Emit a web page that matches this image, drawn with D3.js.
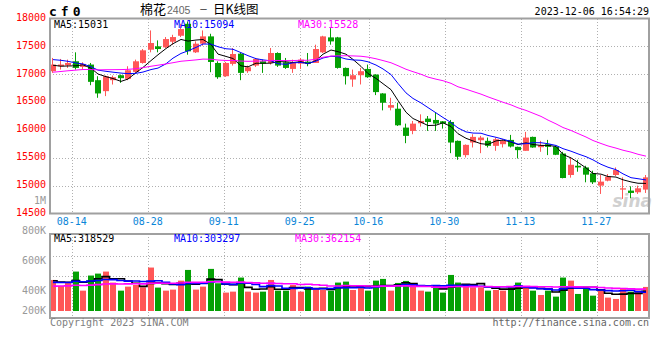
<!DOCTYPE html>
<html><head><meta charset="utf-8">
<script src="https://cdn.jsdelivr.net/npm/d3@7/dist/d3.min.js"></script>
<style>html,body{margin:0;padding:0;background:#fff;}svg{display:block;}</style>
</head><body><svg id="c" width="660" height="360"></svg>
<script>
const dates = ["08-09","08-10","08-11","08-14","08-15","08-16","08-17","08-18","08-21","08-22","08-23","08-24","08-25","08-28","08-29","08-30","08-31","09-01","09-04","09-05","09-06","09-07","09-08","09-11","09-12","09-13","09-14","09-15","09-18","09-19","09-20","09-21","09-22","09-25","09-26","09-27","09-28","10-09","10-10","10-11","10-12","10-13","10-16","10-17","10-18","10-19","10-20","10-23","10-24","10-25","10-26","10-27","10-30","10-31","11-01","11-02","11-03","11-06","11-07","11-08","11-09","11-10","11-13","11-14","11-15","11-16","11-17","11-20","11-21","11-22","11-23","11-24","11-27","11-28","11-29","11-30","12-01","12-04","12-05","12-06"];
const open  = [17054,17143,17160,17232,17131,17173,16893,16696,16893,16982,16917,17042,17202,17440,17500,17482,17583,17690,17905,17393,17548,17679,17202,16964,17185,17369,17054,17155,17232,17202,17381,17214,17095,17190,17226,17202,17393,17661,17661,17113,16905,16982,17095,16994,16655,16399,16381,16042,15982,16119,16203,16179,16155,16143,15804,15548,15774,15815,15804,15714,15744,15821,15696,15625,15875,15690,15744,15702,15577,15191,15357,15327,15220,15000,15089,15191,14929,14911,14881,14929];
const high  = [17292,17274,17262,17393,17214,17202,16964,16976,16976,16994,17143,17262,17452,17786,17607,17667,17708,17905,17946,17590,17786,17726,17232,17220,17470,17381,17155,17292,17262,17470,17393,17292,17262,17292,17381,17530,17690,17827,17670,17120,17083,17113,17173,17000,16660,16577,16488,16113,16161,16280,16250,16321,16160,16179,15810,15740,15923,15893,15863,15863,15833,15911,15700,15964,15880,15804,15821,15714,15607,15506,15464,15357,15268,15191,15208,15327,15149,14988,15000,15191];
const low   = [17024,17083,17113,17083,17095,16803,16577,16607,16815,16845,16893,17024,17190,17393,17393,17470,17530,17667,17350,17381,17512,17036,16917,16952,17155,16893,17024,17131,17024,17173,17131,17095,17024,17095,17143,17202,17381,17530,17100,16815,16774,16816,16935,16625,16351,16351,16071,15762,15923,16060,15982,15982,16024,15583,15464,15506,15685,15583,15685,15625,15685,15685,15488,15625,15680,15607,15548,15548,15131,15143,15250,15060,15030,14851,15077,15173,14762,14774,14851,14869];
const close = [17173,17173,17202,17113,17185,16863,16655,16964,16946,16929,17071,17232,17429,17560,17452,17631,17667,17810,17411,17548,17679,17220,16946,17202,17363,17024,17125,17274,17190,17381,17155,17113,17214,17262,17190,17452,17679,17589,17113,16964,16982,17054,16946,16679,16488,16446,16083,15893,16113,16161,16143,16113,16113,15774,15518,15732,15875,15863,15714,15833,15804,15702,15637,15863,15685,15726,15696,15554,15137,15375,15327,15197,15060,15072,15161,15280,14952,14869,14952,15149];
const volume = [508000,410000,470000,645000,333000,580000,612000,645000,465000,333000,399000,426000,388000,711000,383000,333000,350000,497000,672000,350000,399000,689000,454000,301000,317000,547000,317000,301000,317000,508000,333000,333000,426000,317000,399000,366000,344000,333000,465000,481000,344000,388000,333000,497000,525000,333000,459000,492000,443000,333000,317000,415000,301000,590000,465000,410000,388000,388000,333000,344000,333000,394000,465000,394000,333000,262000,333000,235000,547000,497000,279000,372000,251000,333000,219000,197000,377000,317000,333000,394000];
// estimated sessions before the visible window (only used for the moving averages)
const prevCloses = [16780,16820,16760,16850,16900,16830,16880,16920,16870,16950,16890,16840,16820,16900,16950,17000,17020,17080,17150,17250,17300,17380,17420,17350,17365,17260,17180,17100,17092];
const prevVolumes = [360000,410000,350000,395000,420000,370000,340000,405000,390000,365000,380000,395000,398000,350000,380000,340000,372000,360000,390000,360000,420000,470000,440000,430000,450000,520000,480000,500000,462000];
const xTickDates = ["08-14","08-28","09-11","09-25","10-16","10-30","11-13","11-27"];
const priceTicks = [18000,17500,17000,16500,16000,15500,15000,14500];
const priceGrid = [17500,17000,16500,16000,15500,15000];
const volTickValues = [1000000,800000,600000,400000,200000];
const volTickLabels = ["1M","800K","600K","400K","200K"];
const maNames = ["MA5","MA10","MA30"];
const maPeriods = [5,10,30];
const priceMaValues = ["15031","15094","15528"];
const volMaValues = ["318529","303297","362154"];
const titleText = "棉花";
const contractText = "2405";
const subText = "日K线图";
const codeText = "cf0";
const stampText = "2023-12-06 16:54:29";

const RED = "#ff5757", GREEN = "#04a004";
const maColors = ["#000000","#0000ff","#ff00ff"];
const MONO = "'DejaVu Sans Mono', monospace";
const CJK = "'Noto Sans CJK SC', sans-serif";

const svg = d3.select("#c");
const L = 50, R = 650;
const x = d3.scaleBand().domain(dates).range([L, R]).padding(0);
const tickX = d3.scaleBand().domain(dates).range([49.5, 657.5]).padding(0);
const y = d3.scaleLinear().domain([14500, 18000]).range([213.5, 18.5]);
const vy = d3.scaleLinear().domain([0, 1260000]).range([311, 234]);
const vLabelY = d3.scaleLinear().domain([400000, 1000000]).range([294, 204.3]);

function ma(series, prev, n) {
  const all = prev.concat(series);
  const off = prev.length;
  return series.map((_, i) => d3.mean(all.slice(off + i - n + 1, off + i + 1)));
}

// grid
const grid = svg.append("g").attr("stroke", "#b0b0b0").attr("stroke-dasharray", "1,2").attr("stroke-width", 1);
priceGrid.forEach(v => {
  const yy = Math.round(y(v)) + 0.5;
  grid.append("line").attr("x1", L).attr("x2", 649).attr("y1", yy).attr("y2", yy);
});
[256, 276].forEach(yy => grid.append("line").attr("x1", L).attr("x2", 649).attr("y1", yy + 0.5).attr("y2", yy + 0.5));
xTickDates.forEach(d => {
  const xx = Math.round(tickX(d)) + 0.5;
  grid.append("line").attr("x1", xx).attr("x2", xx).attr("y1", 19).attr("y2", 213);
  grid.append("line").attr("x1", xx).attr("x2", xx).attr("y1", 234).attr("y2", 318);
});

// watermark
svg.append("text").attr("x", 652).attr("y", 207).attr("text-anchor", "end")
  .attr("font-family", "'DejaVu Sans', sans-serif").attr("font-style", "italic").attr("font-weight", "bold")
  .attr("font-size", 17).attr("fill", "#d0d0d0").text("sina");

// candles
const cg = svg.append("g");
dates.forEach((d, i) => {
  const xl = Math.round(x(d));
  const up = close[i] >= open[i];
  const col = up ? RED : GREEN;
  cg.append("line").attr("x1", xl + 2.5).attr("x2", xl + 2.5)
    .attr("y1", y(high[i])).attr("y2", y(low[i])).attr("stroke", col).attr("stroke-width", 1);
  const top = y(Math.max(open[i], close[i])), bot = y(Math.min(open[i], close[i]));
  cg.append("rect").attr("x", xl).attr("width", 6).attr("y", top).attr("height", Math.max(1.2, bot - top)).attr("fill", col);
});

// price MAs
const cx = d => Math.round(x(d)) + 3;
maPeriods.forEach((n, k) => {
  const m = ma(close, prevCloses, n);
  svg.append("path").datum(m).attr("fill", "none").attr("stroke", maColors[k]).attr("stroke-width", 1)
    .attr("d", d3.line().x((v, i) => cx(dates[i])).y(v => y(v)));
});

// volume bars
const vg = svg.append("g");
dates.forEach((d, i) => {
  const xl = Math.round(x(d));
  const col = close[i] >= open[i] ? RED : GREEN;
  vg.append("rect").attr("x", xl).attr("width", 6).attr("y", vy(volume[i])).attr("height", vy(0) - vy(volume[i])).attr("fill", col);
});
maPeriods.forEach((n, k) => {
  const m = ma(volume, prevVolumes, n);
  svg.append("path").datum(m).attr("fill", "none").attr("stroke", maColors[k]).attr("stroke-width", 1.6)
    .attr("d", d3.line().curve(d3.curveStep).x((v, i) => cx(dates[i])).y(v => vy(v)));
});

// frames
const fr = svg.append("g").attr("stroke", "#a0a0a0").attr("stroke-width", 2).attr("fill", "none");
fr.append("path").attr("d", `M${L},18.5 H649 V213.5 H${L} Z`);
fr.append("path").attr("d", `M${L},234 H649 V318 H${L} Z`);

// texts
const txt = (xx, yy, s, fill, anchor, size, fam, weight) => svg.append("text")
  .attr("x", xx).attr("y", yy).attr("fill", fill).attr("text-anchor", anchor || "start")
  .attr("font-size", size || 10).attr("font-family", fam || MONO).attr("font-weight", weight || "normal").text(s);

priceTicks.forEach(v => txt(46, y(v) + 2.3, String(v), "#ff0000", "end"));
volTickValues.forEach((v, k) => txt(46, Math.min(vLabelY(v), 314.3), volTickLabels[k], "#999999", "end"));
xTickDates.forEach(d => txt(tickX(d) - 0.5, 225.3, d, "#0a86d8", "middle"));

const hx = [54, 174, 298];
maNames.forEach((nm, k) => {
  txt(hx[k], 27.5, nm + ":" + priceMaValues[k], maColors[k]);
  txt(hx[k] === 298 ? 295 : hx[k], 242, nm + ":" + volMaValues[k], maColors[k]);
});

txt(49, 16, codeText, "#000", "start", 13, MONO, "bold").attr("letter-spacing", 4);
txt(140, 14, titleText, "#000", "start", 13, CJK);
txt(167, 14, contractText, "#666", "start", 10.5, "'Liberation Sans', sans-serif");
txt(199, 13, "－", "#000", "start", 9, CJK);
txt(213, 14, subText, "#000", "start", 12.5, CJK);
txt(649, 15, stampText, "#000", "end");
txt(50, 326, "Copyright 2023 SINA.COM", "#808080");
txt(649, 326, "http://finance.sina.com.cn", "#666666", "end");
</script></body></html>
